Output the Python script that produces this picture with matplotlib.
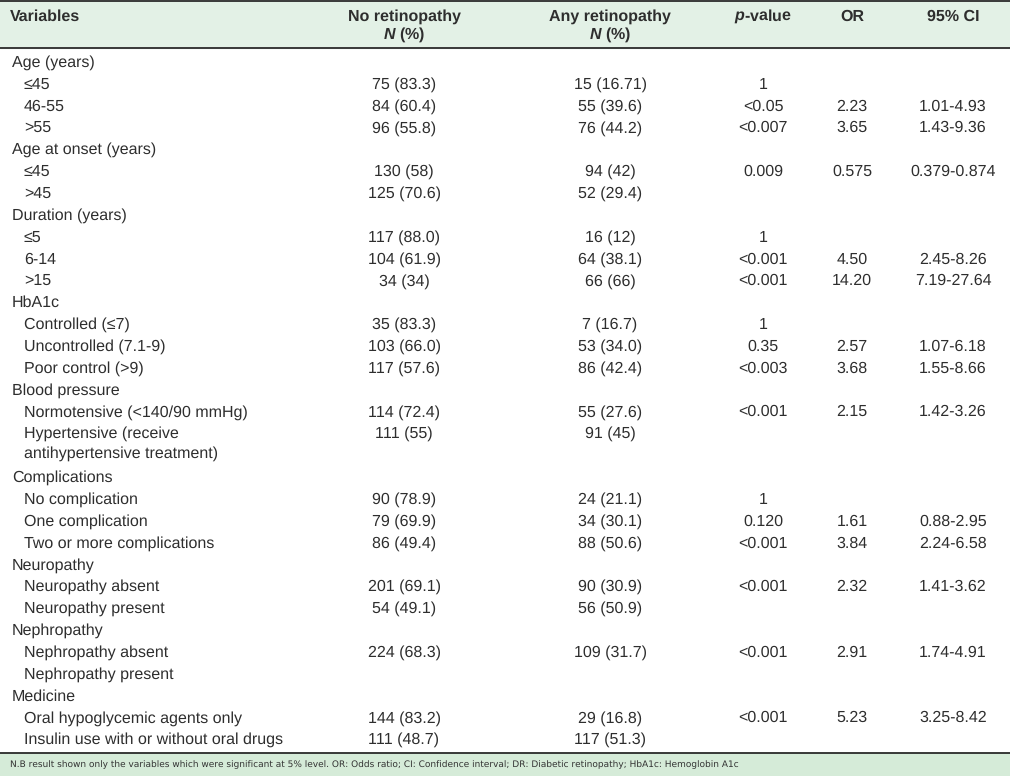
import matplotlib
matplotlib.use('Agg')
import matplotlib.pyplot as plt

plt.rcParams['font.family'] = ['Liberation Sans', 'DejaVu Sans']
plt.rcParams['mathtext.fontset'] = 'custom'
plt.rcParams['mathtext.bfit'] = 'Liberation Sans:bold:italic'
plt.rcParams['mathtext.it'] = 'Liberation Sans:italic'
plt.rcParams['text.hinting'] = 'no_hinting'
plt.rcParams['text.hinting_factor'] = 1

# Dados da tabela
header_top = ['Variables', 'No retinopathy', 'Any retinopathy', '$\\mathbfit{p}$-value', 'OR', '95% CI']
header_bottom = ['', '$\\mathbfit{N}$ (%)', '$\\mathbfit{N}$ (%)', '', '', '']
variables = ['Age (years)', '≤45', '46-55', '>55',
             'Age at onset (years)', '≤45', '>45',
             'Duration (years)', '≤5', '6-14', '>15',
             'HbA1c', 'Controlled (≤7)', 'Uncontrolled (7.1-9)', 'Poor control (>9)',
             'Blood pressure', 'Normotensive (<140/90 mmHg)',
             'Hypertensive (receive\nantihypertensive treatment)',
             'Complications', 'No complication', 'One complication', 'Two or more complications',
             'Neuropathy', 'Neuropathy absent', 'Neuropathy present',
             'Nephropathy', 'Nephropathy absent', 'Nephropathy present',
             'Medicine', 'Oral hypoglycemic agents only', 'Insulin use with or without oral drugs']
is_group = [1, 0, 0, 0, 1, 0, 0, 1, 0, 0, 0, 1, 0, 0, 0, 1, 0, 0,
            1, 0, 0, 0, 1, 0, 0, 1, 0, 0, 1, 0, 0]
no_retino = ['', '75 (83.3)', '84 (60.4)', '96 (55.8)',
             '', '130 (58)', '125 (70.6)',
             '', '117 (88.0)', '104 (61.9)', '34 (34)',
             '', '35 (83.3)', '103 (66.0)', '117 (57.6)',
             '', '114 (72.4)', '111 (55)',
             '', '90 (78.9)', '79 (69.9)', '86 (49.4)',
             '', '201 (69.1)', '54 (49.1)',
             '', '224 (68.3)', '',
             '', '144 (83.2)', '111 (48.7)']
any_retino = ['', '15 (16.71)', '55 (39.6)', '76 (44.2)',
              '', '94 (42)', '52 (29.4)',
              '', '16 (12)', '64 (38.1)', '66 (66)',
              '', '7 (16.7)', '53 (34.0)', '86 (42.4)',
              '', '55 (27.6)', '91 (45)',
              '', '24 (21.1)', '34 (30.1)', '88 (50.6)',
              '', '90 (30.9)', '56 (50.9)',
              '', '109 (31.7)', '',
              '', '29 (16.8)', '117 (51.3)']
p_values = ['', '1', '<0.05', '<0.007',
            '', '0.009', '',
            '', '1', '<0.001', '<0.001',
            '', '1', '0.35', '<0.003',
            '', '<0.001', '',
            '', '1', '0.120', '<0.001',
            '', '<0.001', '',
            '', '<0.001', '',
            '', '<0.001', '']
odds = ['', '', '2.23', '3.65',
        '', '0.575', '',
        '', '', '4.50', '14.20',
        '', '', '2.57', '3.68',
        '', '2.15', '',
        '', '', '1.61', '3.84',
        '', '2.32', '',
        '', '2.91', '',
        '', '5.23', '']
ci = ['', '', '1.01-4.93', '1.43-9.36',
      '', '0.379-0.874', '',
      '', '', '2.45-8.26', '7.19-27.64',
      '', '', '1.07-6.18', '1.55-8.66',
      '', '1.42-3.26', '',
      '', '', '0.88-2.95', '2.24-6.58',
      '', '1.41-3.62', '',
      '', '1.74-4.91', '',
      '', '3.25-8.42', '']
footnote = ('N.B result shown only the variables which were significant at 5% level. '
            'OR: Odds ratio; CI: Confidence interval; DR: Diabetic retinopathy; HbA1c: Hemoglobin A1c')

# Layout (pixels)
W, H = 1010, 776
col_x = [10, 404, 610, 763, 852, 953]
first_line = 61
line_h = 21.85
base_off = 5.7   # centro -> linha de base
txt_color = '#2e2e2e'
fs = 11.6

fig = plt.figure(figsize=(W / 100, H / 100), dpi=100)
ax = fig.add_axes([0, 0, 1, 1])
ax.set_xlim(0, W)
ax.set_ylim(H, 0)
ax.axis('off')

# fundo do cabeçalho e rodapé
ax.axhspan(1, 48, color='#e3f1e6', zorder=0)
ax.axhspan(752.5, H, color='#d5ebd8', zorder=0)
for yl in [1, 48, 752.5]:
    ax.axhline(yl, color='#2a2a2a', lw=1.3, zorder=2)

# cabeçalho
for i in range(len(header_top)):
    ha = 'left' if i == 0 else 'center'
    ax.text(col_x[i], 21, header_top[i], ha=ha, va='baseline', fontsize=fs,
            fontweight='bold', color=txt_color)
    if header_bottom[i]:
        ax.text(col_x[i], 39, header_bottom[i], ha=ha, va='baseline', fontsize=fs,
                fontweight='bold', color=txt_color)

# linhas
line = 0
for i, var in enumerate(variables):
    y = first_line + line * line_h + base_off
    parts = var.split('\n')
    x0 = 12 if is_group[i] else 24
    for k, p in enumerate(parts):
        ax.text(x0, y + k * 20, p, ha='left', va='baseline', fontsize=fs, color=txt_color)
    vals = [no_retino[i], any_retino[i], p_values[i], odds[i], ci[i]]
    for j, v in enumerate(vals):
        if v:
            ax.text(col_x[j + 1], y, v, ha='center', va='baseline', fontsize=fs, color=txt_color)
    line += len(parts)

ax.text(10, 765, footnote, ha='left', va='center', fontsize=6.6, color='#333333',
        family=['DejaVu Sans'])

plt.savefig('out.png', dpi=100)
